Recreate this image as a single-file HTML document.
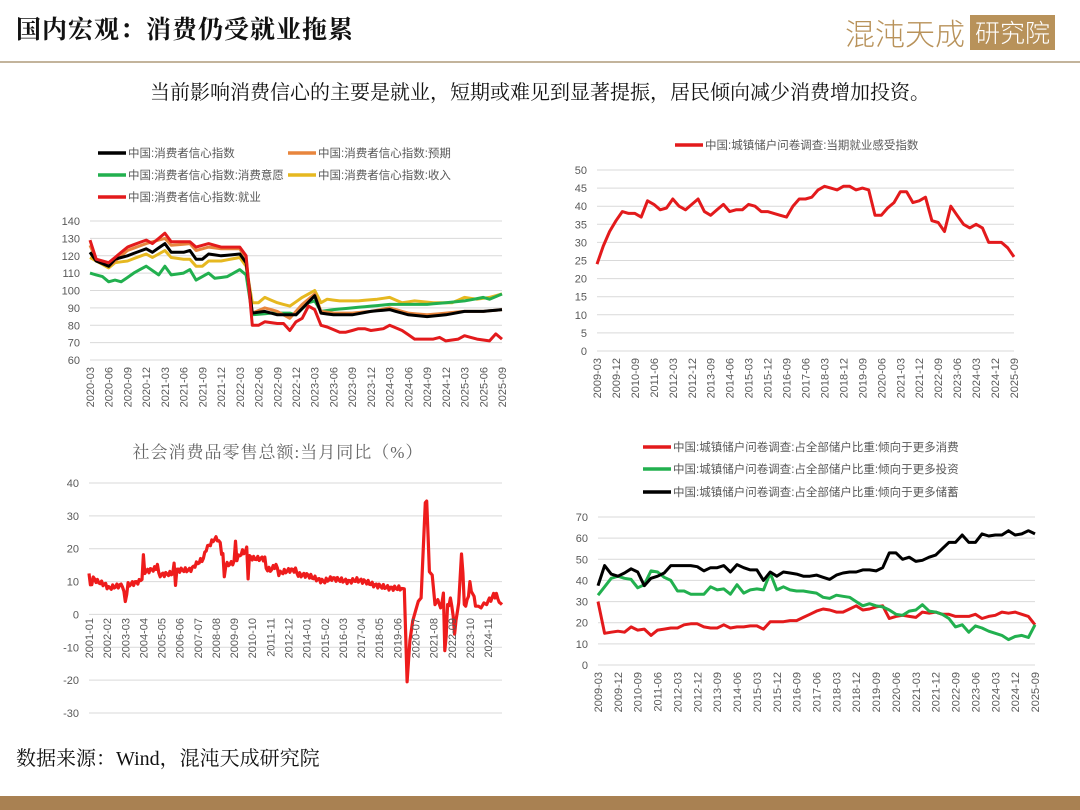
<!DOCTYPE html>
<html><head><meta charset="utf-8">
<style>
html,body{margin:0;padding:0;background:#fff;}
body{width:1080px;height:810px;overflow:hidden;position:relative;font-family:"Liberation Sans","Noto Sans CJK SC",sans-serif;}
.serif{font-family:"Liberation Serif","Noto Serif CJK SC","Noto Sans CJK SC",serif;}
</style></head><body>
<div class="serif" style="position:absolute;left:16px;top:10px;font-size:25px;font-weight:bold;color:#111;letter-spacing:1px;">国内宏观：消费仍受就业拖累</div>
<div style="position:absolute;left:845px;top:13px;width:122px;overflow:hidden;white-space:nowrap;font-family:'Noto Sans CJK SC',sans-serif;font-weight:300;font-size:30px;color:#b8925a;line-height:38px;">混沌天成</div>
<div style="position:absolute;left:970px;top:15px;width:85px;height:35px;background:#b8925a;color:#fff;font-family:'Noto Sans CJK SC',sans-serif;font-weight:300;font-size:25px;line-height:35px;text-align:center;">研究院</div>
<div style="position:absolute;left:0;top:61px;width:1080px;height:2px;background:#c3b49c;"></div>
<div class="serif" style="position:absolute;left:0;width:1080px;top:76px;text-align:center;font-size:20px;color:#111;">当前影响消费信心的主要是就业，短期或难见到显著提振，居民倾向减少消费增加投资。</div>
<div class="serif" style="position:absolute;left:16px;top:742px;font-size:20px;color:#111;">数据来源：Wind，混沌天成研究院</div>
<div style="position:absolute;left:0;top:796px;width:1080px;height:14px;background:#a98152;"></div>
<svg id="s" width="1080" height="810" style="position:absolute;left:0;top:0;" xmlns="http://www.w3.org/2000/svg"></svg>
<script>
var S=document.getElementById('s'),out='';
function interp(kp,n){var a=[];for(var i=0;i<n;i++){var j=0;while(j<kp.length-2&&kp[j+1][0]<=i)j++;var p=kp[j],q=kp[j+1];var t=q[0]==p[0]?0:(i-p[0])/(q[0]-p[0]);t=Math.max(0,Math.min(1,t));a.push(p[1]+(q[1]-p[1])*t);}return a;}
function chart(c){
 var ys=function(v){return c.yt+(c.ymax-v)/(c.ymax-c.ymin)*(c.yb-c.yt);};
 var xs=function(i){return c.x0+i*(c.x1-c.x0)/(c.n-1);};
 for(var v=c.ymin;v<=c.ymax+1e-9;v+=c.step){var y=ys(v);
  out+='<line x1="'+c.x0+'" x2="'+c.x1+'" y1="'+y+'" y2="'+y+'" stroke="#d9d9d9" stroke-width="1"/>';
  out+='<text x="'+(c.x0-10)+'" y="'+(y+4)+'" font-size="11" fill="#595959" text-anchor="end">'+v+'</text>';}
 c.series.forEach(function(s){var d='';s.d.forEach(function(v,i){d+=(i?'L':'M')+xs(i).toFixed(1)+','+ys(v).toFixed(1);});
  out+='<path d="'+d+'" fill="none" stroke="'+s.c+'" stroke-width="'+(c.sw||3)+'" stroke-linejoin="round"/>';});
 c.labels.forEach(function(l){var x=xs(l[0])+4;out+='<text transform="translate('+x.toFixed(1)+','+c.ly+') rotate(-90)" font-size="11" fill="#595959" text-anchor="end">'+l[1]+'</text>';});
}
function lbl(start,sy,sm,stepm,count,fmt){var r=[];for(var k=0;k<count;k++){var m=sm-1+k*stepm;var y=sy+Math.floor(m/12);var mm=m%12+1;r.push([k*(fmt||stepm),y+'-'+(mm<10?'0':'')+mm]);}return r;}
function leg(x,y,col,t){out+='<line x1="'+x+'" x2="'+(x+28)+'" y1="'+y+'" y2="'+y+'" stroke="'+col+'" stroke-width="3.5"/><text x="'+(x+30)+'" y="'+(y+4)+'" font-size="11.5" fill="#595959">'+t+'</text>';}
var k1={
b:[[0,122],[1,117],[3,114],[4,118],[6,120],[9,124],[10,122],[12,127],[13,122],[15,122],[16,123],[17,118],[18,118],[19,121],[21,120],[24,121],[25,116],[26,87],[28,88],[30,86],[33,86],[36,97],[37,87],[39,86],[42,86],[45,88],[48,89],[51,86],[54,85],[57,86],[60,88],[63,88],[66,89]],
o:[[0,126],[1,118],[3,114],[6,123],[9,127],[12,130],[13,126],[16,127],[17,123],[19,125],[21,124],[24,124],[25,118],[26,87],[28,90],[30,88],[32,84],[34,92],[36,98],[37,88],[39,87],[42,87],[45,88],[48,90],[51,87],[54,86],[57,87],[60,88],[63,88],[66,89]],
g:[[0,110],[2,108],[3,105],[4,106],[5,105],[7,110],[9,114],[11,109],[12,114],[13,109],[15,110],[16,112],[17,106],[19,110],[20,107],[22,108],[24,112],[25,109],[26,86],[29,87],[32,87],[33,86],[35,93],[36,94],[37,88],[39,89],[42,90],[45,91],[48,92],[51,92],[54,92],[57,93],[60,94],[63,96],[64,95],[66,98]],
y:[[0,119],[2,115],[3,113],[4,116],[6,117],[9,121],[10,119],[12,123],[13,119],[15,118],[16,118],[17,114],[18,114],[19,117],[21,117],[24,119],[25,114],[26,93],[27,93],[28,96],[30,93],[32,91],[34,96],[36,100],[37,93],[38,95],[40,94],[43,94],[46,95],[48,96],[50,93],[52,94],[55,93],[58,93],[60,96],[62,95],[64,96],[66,98]],
r:[[0,129],[1,118],[3,116],[4,119],[6,125],[9,129],[10,127],[12,133],[13,128],[16,128],[17,125],[19,127],[21,125],[24,125],[25,120],[26,80],[27,80],[28,82],[30,81],[31,81],[32,77],[33,82],[34,84],[35,91],[36,89],[37,80],[38,79],[40,76],[41,76],[43,78],[44,78],[45,77],[47,78],[48,80],[50,77],[52,72],[55,72],[56,73],[57,71],[59,72],[60,74],[62,72],[64,71],[65,75],[66,72]]};
chart({x0:90,x1:502,yt:221,yb:360,ymin:60,ymax:140,step:10,n:67,ly:367,sw:3,
 series:[{c:'#e6b820',d:interp(k1.y,67)},{c:'#22b04f',d:interp(k1.g,67)},{c:'#e8853d',d:interp(k1.o,67)},{c:'#000',d:interp(k1.b,67)},{c:'#e31a1c',d:interp(k1.r,67)}],
 labels:lbl(0,2020,3,3,23)});
leg(98,153,'#000','中国:消费者信心指数');leg(288,153,'#e8853d','中国:消费者信心指数:预期');
leg(98,175,'#22b04f','中国:消费者信心指数:消费意愿');leg(288,175,'#e6b820','中国:消费者信心指数:收入');
leg(98,197,'#e31a1c','中国:消费者信心指数:就业');
var d2=[24,29,33,36,38.5,38,38,37,41.5,40.5,39,39.5,42,40,39,40.5,42,38.5,37.5,39,40.5,38.5,39,39,40.5,40,38.5,38.5,38,37.5,37,40,42,42,42.5,44.5,45.5,45,44.5,45.5,45.5,44.5,45,44.5,37.5,37.5,39.5,41,44,44,41,41.5,42.5,36,35.5,33,40,37.5,35,34,35,34,30,30,30,28.5,26];
chart({x0:597,x1:1014,yt:170,yb:351,ymin:0,ymax:50,step:5,n:67,ly:358,sw:3,series:[{c:'#e31a1c',d:d2}],labels:lbl(0,2009,3,9,23,3)});
leg(675,145,'#e31a1c','中国:城镇储户问卷调查:当期就业感受指数');
var k3=[[0,12.5],[1,8.5],[3,11],[6,10],[12,9],[14,8],[24,9],[26,4],[28,9],[36,10],[38,11],[39,17.5],[40,13],[48,14],[49,15.5],[50,12],[60,12.5],[61,15],[62,9.5],[63,13.5],[72,13.5],[74,14],[76,15],[82,17],[84,20],[88,22],[90,23],[92,23],[94,21.5],[95,19],[96,18],[97,11.5],[98,15],[102,15.5],[104,16],[105,22],[106,17],[110,19],[112,19],[113,20],[114,11.5],[115,17.5],[118,17],[126,17],[127,14],[130,13.5],[134,15],[136,12.5],[144,13.5],[148,13.5],[150,12],[156,12],[162,11],[168,10],[174,11],[180,10.5],[186,10],[192,10.5],[198,10],[204,9],[210,8.5],[216,8],[222,8],[226,7.8],[228,-20.5],[230,-8],[232,-2],[236,4],[238,5],[241,34],[242,34.5],[244,13],[246,12],[248,3],[250,4.5],[252,2],[253,3.5],[254,6.5],[255,-11],[256,-6.5],[257,3],[258,2.7],[259,5],[260,2.5],[261,-0.5],[262,-6],[263,-1.8],[265,3.5],[267,18.4],[268,12.7],[269,3],[270,2.5],[271,4.5],[272,5.5],[273,10],[274,7],[276,5.5],[277,2.5],[279,2.5],[281,2],[283,3.5],[285,3],[287,5],[288,4],[290,6.4],[291,5],[292,6.4],[293,4.8],[294,3.7],[295,3.4],[296,3]];
var d3=interp(k3,297).map(function(v,i){return v+(i<225?Math.sin(i*2.3)*0.7:0);});
var lab3=[];for(var k=0;k<23;k++){var m=k*13;var yy=2001+Math.floor(m/12),mm=m%12+1;lab3.push([m,yy+'-'+(mm<10?'0':'')+mm]);}
chart({x0:89,x1:502,yt:483,yb:713,ymin:-30,ymax:40,step:10,n:297,ly:618,sw:3.2,series:[{c:'#ee1c1c',d:d3}],labels:lab3});
out+='<text x="278" y="458" font-size="17" fill="#666" text-anchor="middle" font-family="Liberation Serif,Noto Serif CJK SC,serif" letter-spacing="1">社会消费品零售总额:当月同比（%）</text>';
var r4=[30,15,15.5,16,15.5,18,16.5,17,14,16.5,17,17.5,17.5,19,19.5,19.5,18,17.5,17.5,19,17.5,18,18,18.5,18.5,17,20.5,20.5,20.5,21,21,22.5,24,25.5,26.5,26,25,25,26.5,28,26,26.5,27.5,28,22,23,23.5,23,22.5,25,24.5,25,24,24,23,23,23,24,22,23,23.5,25,24.5,25,24,23,19];
var g4=[33,37,41,42,41,40.5,36.5,38,44.5,44,41.5,40,35,35,33.5,33.5,33.5,37,35.5,36,33.5,38,34,35.5,36,35.5,43.5,35.5,37,35.5,35,35,34.5,34,32,31.5,33,32.5,32,30,28,29,28,27.5,26,24,23.5,25.5,26,28.5,25.5,25,24,22,18,19,15.5,18.5,17.5,16,15,14,12,13.5,14,13,19];
var b4=[37.5,47,43,42,43.5,45.5,44,37.5,41,42,43.5,47,47,47,47,46.5,44.5,46,46,47,44,47.5,46,45,45,40,44,42,44,43.5,43,42,42,42.5,41.5,40.5,42.5,43.5,44,44,45,45,44.5,46,53,53,50,51,49,49.5,51,52,55,58,58,61.5,58,58,62,61,61.5,61.5,63.5,61.5,62,63.5,62];
chart({x0:598,x1:1035,yt:517,yb:665,ymin:0,ymax:70,step:10,n:67,ly:672,sw:3,series:[{c:'#e31a1c',d:r4},{c:'#22b04f',d:g4},{c:'#000',d:b4}],labels:lbl(0,2009,3,9,23,3)});
leg(643,447,'#e31a1c','中国:城镇储户问卷调查:占全部储户比重:倾向于更多消费');
leg(643,469,'#22b04f','中国:城镇储户问卷调查:占全部储户比重:倾向于更多投资');
leg(643,492,'#000','中国:城镇储户问卷调查:占全部储户比重:倾向于更多储蓄');
S.innerHTML=out;
</script>
</body></html>
